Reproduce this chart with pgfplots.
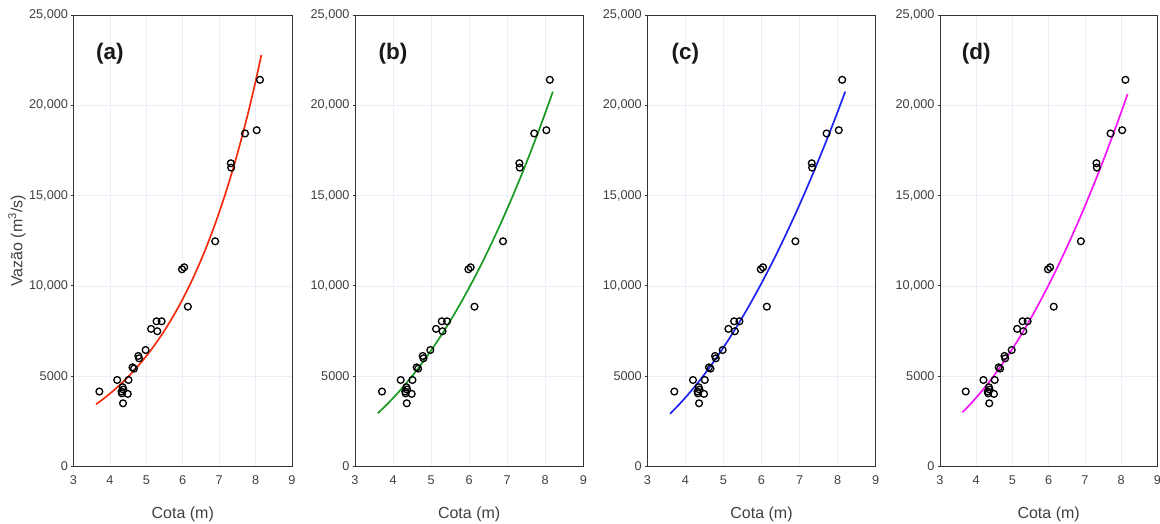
\documentclass[border=0pt]{standalone}
\usepackage{pgfplots}
\usepackage{pgfplotstable}
\pgfplotsset{compat=1.18}
\usepackage{fontspec}
\setmainfont{Liberation Sans}
\definecolor{gridc}{RGB}{236,238,247}
\definecolor{cred}{RGB}{245,45,15}
\definecolor{cgreen}{RGB}{25,155,35}
\definecolor{cblue}{RGB}{30,35,240}
\definecolor{cmag}{RGB}{245,20,245}
\definecolor{txt}{RGB}{64,64,64}

\pgfplotstableread{
x y
3.71 4150
4.20 4790
4.51 4790
4.35 4390
4.32 4150
4.37 4260
4.33 4050
4.49 4020
4.36 3500
4.62 5490
4.66 5420
4.78 6120
4.80 5990
4.98 6450
5.13 7620
5.28 8040
5.42 8040
5.30 7490
5.98 10920
6.04 11030
6.14 8850
6.89 12470
7.32 16790
7.33 16550
7.71 18440
8.03 18620
8.12 21410
}\pts

\pgfplotstableread{
x y
3.62 3445
3.8 3713
4.0 4035
4.2 4385
4.4 4766
4.6 5180
4.8 5629
5.0 6118
5.2 6649
5.4 7226
5.6 7854
5.8 8536
6.0 9276
6.2 10082
6.4 10956
6.6 11908
6.8 12942
7.0 14066
7.2 15286
7.4 16612
7.6 18056
7.8 19620
8.0 21325
8.16 22792
}\fita

\pgfplotstableread{
x y
3.6 2950
3.8 3353
4.0 3787
4.2 4251
4.4 4747
4.6 5274
4.8 5833
5.0 6426
5.2 7052
5.4 7712
5.6 8406
5.8 9135
6.0 9900
6.2 10700
6.4 11536
6.6 12408
6.8 13318
7.0 14266
7.2 15250
7.4 16273
7.6 17332
7.8 18435
8.0 19575
8.2 20756
}\fitb

\pgfplotstableread{
x y
3.6 2925
3.8 3354
4.0 3814
4.2 4306
4.4 4829
4.6 5384
4.8 5971
5.0 6589
5.2 7238
5.4 7919
5.6 8631
5.8 9375
6.0 10150
6.2 10957
6.4 11795
6.6 12665
6.8 13566
7.0 14499
7.2 15464
7.4 16459
7.6 17487
7.8 18545
8.0 19636
8.2 20757
}\fitc

\pgfplotstableread{
x y
3.62 3001
3.8 3370
4.0 3812
4.2 4287
4.4 4795
4.6 5336
4.8 5910
5.0 6517
5.2 7157
5.4 7831
5.6 8537
5.8 9277
6.0 10050
6.2 10856
6.4 11695
6.6 12567
6.8 13472
7.0 14410
7.2 15382
7.4 16386
7.6 17424
7.8 18495
8.0 19598
8.18 20620
}\fitd

\pgfplotsset{
  panel/.style={
    scale only axis,
    height=451.5pt,
    xmin=3, xmax=9, ymin=0, ymax=25000,
    xtick={3,4,5,6,7,8,9},
    xticklabels={3,4,5,6,7,8,9},
    ytick={0,5000,10000,15000,20000,25000},
    yticklabels={0,5000,{10,000},{15,000},{20,000},{25,000}},
    scaled y ticks=false,
    scaled x ticks=false,
    xtick pos=bottom,
    ytick pos=left,
    grid=major,
    grid style={color=gridc, line width=0.7pt},
    axis line style={black!80, line width=0.9pt},
    tick align=outside,
    major tick length=2.5pt,
    xtick style={draw=none},
    ytick style={black!80, line width=0.9pt},
    tick label style={font=\fontsize{12.7}{14}\selectfont, color=txt},
    yticklabel style={xshift=0.5pt},
    xticklabel style={yshift=-3.5pt},
    xlabel={Cota (m)},
    xlabel style={font=\fontsize{16}{18}\selectfont, color=txt,
      at={(axis description cs:0.5,-0.1052)}, anchor=center},
  },
  pts/.style={only marks, mark=o, mark size=3.4pt, black, line width=1.3pt},
  fit/.style={no marks, line width=1.7pt, smooth},
}
\tikzset{tag/.style={font=\fontsize{22.5}{25}\selectfont\bfseries, text=black!90}}

\begin{document}
\begin{tikzpicture}
\path[use as bounding box] (0pt,0pt) rectangle (1160pt,524pt);

\begin{axis}[panel, at={(73.5pt,57.5pt)}, anchor=south west, width=218.5pt,
  ylabel={Vazão (m\textsuperscript{3}/s)},
  ylabel style={font=\fontsize{16}{18}\selectfont, color=txt,
    at={(axis description cs:-0.2586,0.5)}, anchor=center}]
\addplot[fit, cred] table[x=x,y=y] {\fita};
\addplot[pts] table[x=x,y=y] {\pts};
\node[tag] at (axis cs:4.0,22840) {(a)};
\end{axis}

\begin{axis}[panel, at={(355pt,57.5pt)}, anchor=south west, width=228.3pt]
\addplot[fit, cgreen] table[x=x,y=y] {\fitb};
\addplot[pts] table[x=x,y=y] {\pts};
\node[tag] at (axis cs:4.0,22840) {(b)};
\end{axis}

\begin{axis}[panel, at={(647.3pt,57.5pt)}, anchor=south west, width=228.4pt]
\addplot[fit, cblue] table[x=x,y=y] {\fitc};
\addplot[pts] table[x=x,y=y] {\pts};
\node[tag] at (axis cs:4.0,22840) {(c)};
\end{axis}

\begin{axis}[panel, at={(940pt,57.5pt)}, anchor=south west, width=217.3pt]
\addplot[fit, cmag] table[x=x,y=y] {\fitd};
\addplot[pts] table[x=x,y=y] {\pts};
\node[tag] at (axis cs:4.0,22840) {(d)};
\end{axis}
\end{tikzpicture}
\end{document}
